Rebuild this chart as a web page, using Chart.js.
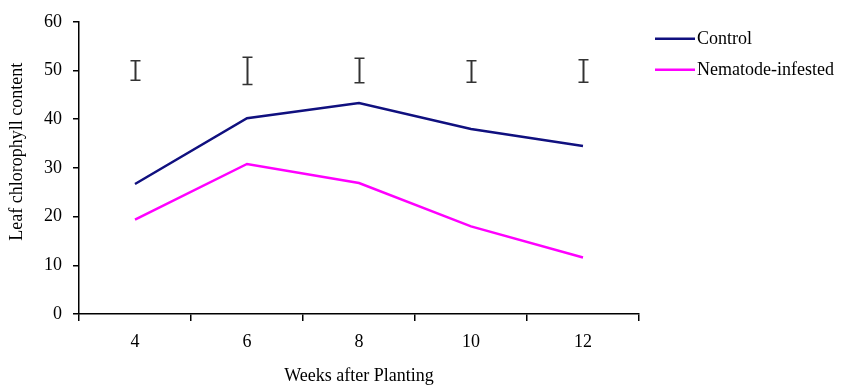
<!DOCTYPE html>
<html>
<head>
<meta charset="utf-8">
<script src="https://cdn.jsdelivr.net/npm/chart.js@4/dist/chart.umd.min.js"></script>
<style>
  html, body { margin: 0; padding: 0; background: #fff; }
  #wrap { width: 842px; height: 387px; }
</style>
</head>
<body>
<div id="wrap"><canvas id="myChart"></canvas></div>
<script>
'use strict';
let weeks = ['4', '6', '8', '10', '12'];
let controlValues = [26.7, 40.2, 43.3, 38.0, 34.5];
let nematodeValues = [19.4, 30.8, 26.9, 18.0, 11.6];
// LSD bars drawn above each week
let lsdMid = [50.0, 49.9, 50.0, 49.8, 49.9];
let lsdHalf = [2.0, 2.8, 2.5, 2.2, 2.3];
let yTicks = [0, 10, 20, 30, 40, 50, 60];

let serif = "'Liberation Serif', 'Times New Roman', serif";

let extras = {
    id: 'extras',
    afterDatasetsDraw(chart) {
        let ctx = chart.ctx;
        let xs = chart.scales.x;
        let ys = chart.scales.y;
        let area = chart.chartArea;

        // LSD bars
        ctx.save();
        ctx.strokeStyle = '#333';
        for (let i = 0; i < weeks.length; i++) {
            let x = Math.round(xs.getPixelForValue(i)) + 0.5;
            let top = ys.getPixelForValue(lsdMid[i] + lsdHalf[i]);
            let bot = ys.getPixelForValue(lsdMid[i] - lsdHalf[i]);
            ctx.lineWidth = 2;
            ctx.beginPath();
            ctx.moveTo(x, top);
            ctx.lineTo(x, bot);
            ctx.stroke();
            ctx.lineWidth = 1.5;
            ctx.beginPath();
            ctx.moveTo(x - 5, top);
            ctx.lineTo(x + 5, top);
            ctx.moveTo(x - 5, bot);
            ctx.lineTo(x + 5, bot);
            ctx.stroke();
        }
        ctx.restore();

        // legend
        ctx.save();
        ctx.font = '18px ' + serif;
        ctx.textBaseline = 'middle';
        ctx.fillStyle = '#000';
        chart.data.datasets.forEach(function (ds, i) {
            let y = area.top + 17 + i * 31;
            ctx.strokeStyle = ds.borderColor;
            ctx.lineWidth = 2.5;
            ctx.beginPath();
            ctx.moveTo(area.right + 16, y);
            ctx.lineTo(area.right + 56, y);
            ctx.stroke();
            ctx.fillText(ds.label, area.right + 58, y);
        });
        ctx.restore();

        // y axis title
        ctx.save();
        ctx.font = '18px ' + serif;
        ctx.fillStyle = '#000';
        ctx.textAlign = 'center';
        ctx.textBaseline = 'middle';
        ctx.translate(17, area.top + 130);
        ctx.rotate(-Math.PI / 2);
        ctx.fillText('Leaf chlorophyll content', 0, 0);
        ctx.restore();
    }
};

let ctx = document.getElementById('myChart').getContext('2d');
let myChart = new Chart(ctx, {
    type: 'line',
    data: {
        labels: weeks,
        datasets: [{
            label: 'Control',
            data: controlValues,
            borderColor: '#10107f',
            borderWidth: 2.5,
            pointRadius: 0,
            tension: 0,
            fill: false
        },
        {
            label: 'Nematode-infested',
            data: nematodeValues,
            borderColor: '#ff00ff',
            borderWidth: 2.5,
            pointRadius: 0,
            tension: 0,
            fill: false
        }]
    },
    options: {
        responsive: true,
        maintainAspectRatio: false,
        animation: false,
        layout: { padding: { top: 20, right: 203, left: 0, bottom: 0 } },
        plugins: {
            legend: { display: false },
            tooltip: { enabled: false }
        },
        scales: {
            x: {
                offset: true,
                grid: {
                    offset: true,
                    drawOnChartArea: false,
                    drawTicks: true,
                    tickLength: 7,
                    color: '#000',
                    lineWidth: 1.5
                },
                border: { display: true, color: '#000', width: 1.5 },
                ticks: {
                    color: '#000',
                    font: { family: serif, size: 18 },
                    padding: 10,
                    maxRotation: 0
                },
                title: {
                    display: true,
                    text: 'Weeks after Planting',
                    color: '#000',
                    font: { family: serif, size: 18 },
                    padding: { top: 0, bottom: 0 }
                },
                afterFit(scale) { scale.height = 73; }
            },
            y: {
                min: 0,
                max: 60,
                afterBuildTicks(scale) {
                    scale.ticks = yTicks.map(function (v) { return { value: v }; });
                },
                grid: {
                    drawOnChartArea: false,
                    drawTicks: true,
                    tickLength: 6,
                    color: '#000',
                    lineWidth: 1.5
                },
                border: { display: true, color: '#000', width: 1.5 },
                ticks: {
                    color: '#000',
                    font: { family: serif, size: 18 },
                    padding: 11
                },
                afterFit(scale) { scale.width = 79; }
            }
        }
    },
    plugins: [extras]
});
</script>
</body>
</html>
